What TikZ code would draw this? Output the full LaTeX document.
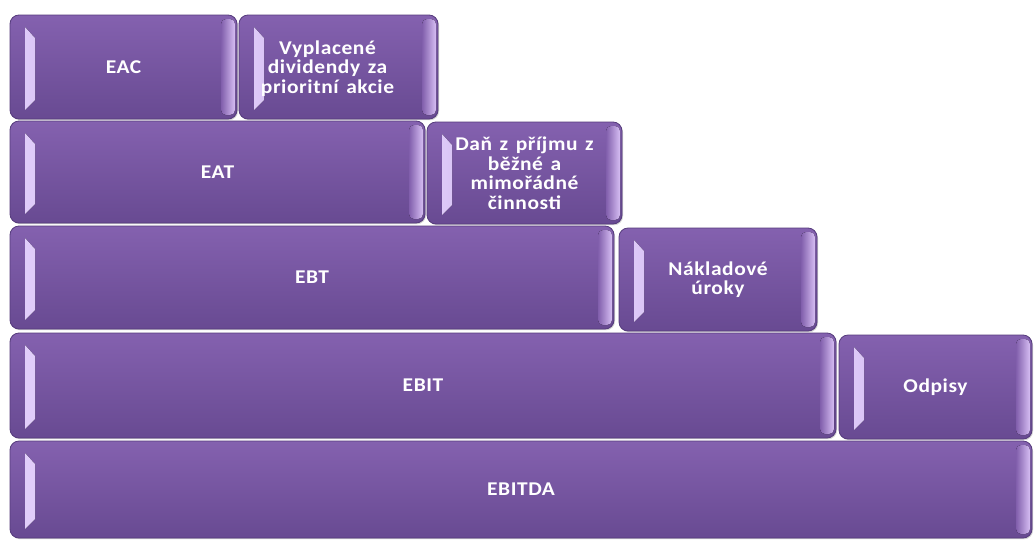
\documentclass[tikz,border=0pt]{standalone}
\usepackage{fontspec}
\newfontfamily\boxfont{Carlito}[FakeStretch=1.1, LetterSpace=3, WordSpace=1.4]
\usetikzlibrary{calc,shadows}

\definecolor{barTop}{HTML}{8461AF}
\definecolor{barBot}{HTML}{684A92}
\definecolor{barEdge}{HTML}{553B7C}
\definecolor{bevelLight}{HTML}{E2CFFB}
\definecolor{bevelDark}{HTML}{A27FD0}
\definecolor{sideLight}{HTML}{D6BEF3}

\tikzset{
  bartext/.style={
    inner sep=0pt, align=center, text=white,
    font=\boxfont\bfseries\fontsize{19.5}{19.5}\selectfont
  },
  barbox/.style={
    bartext, outer sep=0pt,
    rounded corners=9pt, draw=barEdge, line width=0.8pt,
    top color=barTop, bottom color=barBot,
    drop shadow={shadow xshift=1pt, shadow yshift=-1.2pt, opacity=0.35},
    path picture={
      % bevel on the left side
      \fill[left color=bevelLight, right color=bevelDark, sharp corners]
        ($(path picture bounding box.north west)+(15,12)$) --
        ($(path picture bounding box.north west)+(25,23)$) --
        ($(path picture bounding box.south west)+(25,-19)$) --
        ($(path picture bounding box.south west)+(15,-9)$) -- cycle;
      % glossy band along the right edge
      \fill[left color=barTop!90!barBot, right color=sideLight, rounded corners=5pt]
        ($(path picture bounding box.north east)+(-16,4)$) rectangle
        ($(path picture bounding box.south east)+(-2,-4)$);
    }
  }
}

\begin{document}
\begin{tikzpicture}[x=1pt, y=-1pt]
  \useasboundingbox[fill=white] (0,0) rectangle (1035,541);

  % bottom row first so upper rows sit on top
  \node[barbox, minimum width=1022pt, minimum height=97pt]  (ebitda) at (521,489.5) {EBITDA};

  \node[barbox, minimum width=826pt, minimum height=105pt]  (ebit)   at (423,385.5) {EBIT};
  \node[barbox, minimum width=193pt, minimum height=104pt]  (odpisy) at (935.5,387) {Odpisy};

  \node[barbox, minimum width=604pt, minimum height=103pt]  (ebt)    at (312,277.5) {EBT};
  \node[barbox, minimum width=198pt, minimum height=103pt]  (uroky)  at (718,279.5) {Nákladové\\úroky};

  \node[barbox, minimum width=415pt, minimum height=102pt]  (eat)    at (217.5,172) {EAT};
  \node[barbox, minimum width=195pt, minimum height=102pt]  (dan)    at (524.5,173) {Daň z příjmu z\\běžné a\\mimořádné\\činnosti};

  \node[barbox, minimum width=227pt, minimum height=104pt]  (eac)    at (123.5,67)  {EAC};
  \node[barbox, minimum width=199pt, minimum height=104pt]  (divid)  at (338.5,67)  {};
  % the label of this box sits a little left of centre
  \node[bartext] (dividtext) at ($(divid.center)+(-11,1.5)$) {Vyplacené\\dividendy za\\prioritní akcie};
\end{tikzpicture}
\end{document}
